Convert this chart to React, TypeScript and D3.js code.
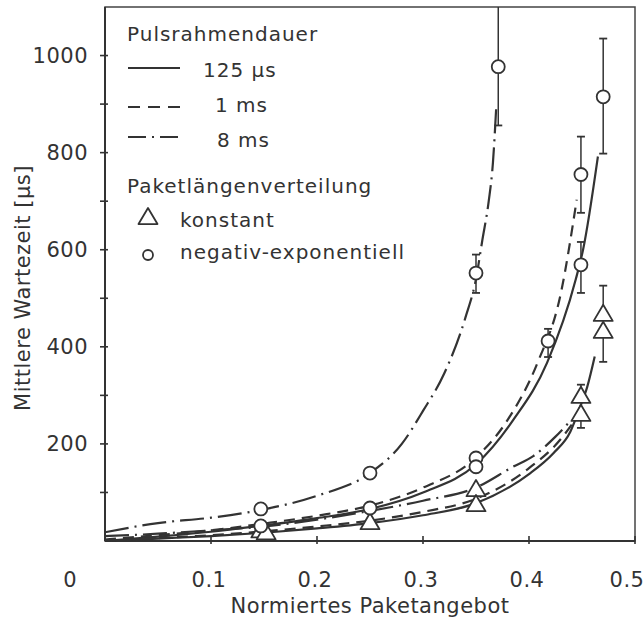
import React from "react";
import * as d3 from "d3";

// ---- data ----
const yMajorTicks = [200, 400, 600, 800, 1000];
const yMinorTicks = [100, 200, 300, 400, 500, 600, 700, 800, 900, 1000];
const xTicks = [0.1, 0.2, 0.3, 0.4, 0.5];
const xTickLabels = ["0.1", "0.2", "0.3", "0.4", "0.5"];

// curves: negativ-exponentiell
const exp125X = [0, 0.05, 0.1, 0.15, 0.2, 0.25, 0.3, 0.35, 0.385, 0.417, 0.444, 0.451, 0.465];
const exp125Y = [0, 9, 19, 32, 47, 66, 100, 158, 249, 367, 538, 600, 792];
const exp1msX = [0, 0.05, 0.1, 0.15, 0.2, 0.25, 0.3, 0.35, 0.38, 0.408, 0.43, 0.445];
const exp1msY = [3, 12, 22, 36, 52, 73, 110, 172, 250, 367, 510, 703];
const exp8msX = [0, 0.05, 0.1, 0.147, 0.2, 0.25, 0.28, 0.3, 0.32, 0.34, 0.35, 0.356, 0.362, 0.366, 0.369];
const exp8msY = [18, 37, 48, 64, 93, 140, 200, 268, 345, 460, 540, 620, 700, 780, 890];
// curves: konstant
const kon125X = [0, 0.05, 0.1, 0.15, 0.2, 0.25, 0.3, 0.35, 0.4, 0.423, 0.439, 0.448, 0.455, 0.462];
const kon125Y = [0, 5, 10, 17, 26, 37, 53, 78, 138, 181, 225, 275, 318, 380];
const kon1msX = [0, 0.05, 0.1, 0.15, 0.2, 0.25, 0.3, 0.35, 0.4, 0.43, 0.442];
const kon1msY = [1, 6, 12, 20, 30, 42, 60, 87, 150, 210, 245];
const kon8msX = [0, 0.05, 0.1, 0.15, 0.2, 0.25, 0.3, 0.35, 0.385, 0.404, 0.425, 0.44];
const kon8msY = [10, 15, 22, 30, 44, 62, 83, 110, 153, 175, 215, 250];

// measured points: circles (negativ-exponentiell)
const circX = [0.147, 0.147, 0.25, 0.25, 0.35, 0.35, 0.35, 0.371, 0.418, 0.449, 0.449, 0.47];
const circY = [66, 31, 140, 68, 171, 153, 552, 977, 412, 755, 569, 915];
const circLo = [null, null, null, null, null, null, 511, 856, 379, 676, 511, 798];
const circHi = [null, null, null, null, null, null, 590, 1100, 437, 833, 616, 1035];
// measured points: triangles (konstant)
const triX = [0.147, 0.152, 0.25, 0.35, 0.35, 0.449, 0.449, 0.47, 0.47];
const triY = [24, 20, 41, 109, 78, 301, 264, 470, 435];
const triLo = [null, null, null, null, null, null, 233, null, 369];
const triHi = [null, null, null, null, null, 322, null, 526, null];

const W = 643;
const H = 618;
const L = 105, R = 635, T = 7, B = 541;
const INK = "#333";
const FONT = "'DejaVu Sans', sans-serif";

const x = d3.scaleLinear().domain([0, 0.5]).range([L, R]);
const y = d3.scaleLinear().domain([0, 1100]).range([B, T]);

const lineGen = d3
  .line<[number, number]>()
  .x((d) => x(d[0]))
  .y((d) => y(d[1]))
  .curve(d3.curveMonotoneX);

const zip = (xs: number[], ys: number[]) => xs.map((v, i) => [v, ys[i]] as [number, number]);

const SOLID = "none";
const DASHED = "11,7";
const DASHDOT = "24,6,2,6";

const curves = [
  { xs: exp125X, ys: exp125Y, dash: SOLID },
  { xs: exp1msX, ys: exp1msY, dash: DASHED },
  { xs: exp8msX, ys: exp8msY, dash: DASHDOT },
  { xs: kon125X, ys: kon125Y, dash: SOLID },
  { xs: kon1msX, ys: kon1msY, dash: DASHED },
  { xs: kon8msX, ys: kon8msY, dash: DASHDOT },
];

function Triangle({ cx, cy, s = 19 }: { cx: number; cy: number; s?: number }) {
  const h = s * 0.85;
  const p = `M${cx},${cy - h / 2} L${cx + s / 2},${cy + h / 2} L${cx - s / 2},${cy + h / 2} Z`;
  return <path d={p} fill="white" stroke={INK} strokeWidth={1.8} strokeLinejoin="round" />;
}

export default function App() {
  const errs: any[] = [];
  const addErr = (xv: number, yv: number, lo: number | null, hi: number | null, key: string) => {
    const px = x(xv);
    if (hi != null) {
      errs.push(
        <g key={key + "h"}>
          <line x1={px} x2={px} y1={y(yv)} y2={y(hi)} stroke={INK} strokeWidth={1.5} />
          {hi < 1100 && <line x1={px - 4} x2={px + 4} y1={y(hi)} y2={y(hi)} stroke={INK} strokeWidth={1.8} />}
        </g>
      );
    }
    if (lo != null) {
      errs.push(
        <g key={key + "l"}>
          <line x1={px} x2={px} y1={y(yv)} y2={y(lo)} stroke={INK} strokeWidth={1.5} />
          <line x1={px - 4} x2={px + 4} y1={y(lo)} y2={y(lo)} stroke={INK} strokeWidth={1.8} />
        </g>
      );
    }
  };
  circX.forEach((xv, i) => addErr(xv, circY[i], circLo[i], circHi[i], "c" + i));
  triX.forEach((xv, i) => addErr(xv, triY[i], triLo[i], triHi[i], "t" + i));

  return (
    <svg
      width={W}
      height={H}
      style={{ position: "absolute", left: 0, top: 0, background: "white" }}
      fontFamily={FONT}
    >
      <rect x={0} y={0} width={W} height={H} fill="white" />
      {/* frame */}
      <rect x={L} y={T} width={R - L} height={B - T} fill="none" stroke="#444" strokeWidth={1.5} />
      <line x1={L} x2={L} y1={T} y2={B} stroke="#333" strokeWidth={2} />
      <line x1={L} x2={R} y1={B} y2={B} stroke="#333" strokeWidth={2} />

      {/* y ticks */}
      {yMinorTicks.map((v) => (
        <line key={"ym" + v} x1={L - 5} x2={L + 3} y1={y(v)} y2={y(v)} stroke={INK} strokeWidth={1.6} />
      ))}
      {yMajorTicks.map((v) => (
        <text key={"yl" + v} x={88} y={y(v)} dy="0.35em" textAnchor="end" fontSize={21} fill={INK} letterSpacing={0.5}>
          {v}
        </text>
      ))}
      <text x={70} y={580} dy="0.35em" textAnchor="middle" fontSize={21} fill={INK}>0</text>

      {/* x ticks */}
      {xTicks.map((v, i) => (
        <g key={"xt" + v}>
          <line x1={x(v)} x2={x(v)} y1={B - 5} y2={B + 3} stroke={INK} strokeWidth={1.6} />
          <text x={x(v) - (i === 4 ? 8 : 2)} y={580} dy="0.35em" textAnchor="middle" fontSize={21} fill={INK} letterSpacing={0.5}>
            {xTickLabels[i]}
          </text>
        </g>
      ))}

      {/* axis titles */}
      <text x={370} y={606} dy="0.35em" textAnchor="middle" fontSize={21} fill={INK} letterSpacing={0.5}>
        Normiertes Paketangebot
      </text>
      <text
        transform={`translate(23,288) rotate(-90)`}
        dy="0.35em"
        textAnchor="middle"
        fontSize={21}
        fill={INK}
        letterSpacing={0.5}
      >
        Mittlere Wartezeit [µs]
      </text>

      {/* curves */}
      {curves.map((c, i) => (
        <path
          key={"c" + i}
          d={lineGen(zip(c.xs, c.ys)) || ""}
          fill="none"
          stroke={INK}
          strokeWidth={2.2}
          strokeDasharray={c.dash}
        />
      ))}

      {/* error bars */}
      {errs}

      {/* markers */}
      {triX.map((xv, i) => (
        <Triangle key={"tr" + i} cx={x(xv)} cy={y(triY[i])} />
      ))}
      {circX.map((xv, i) => (
        <circle key={"ci" + i} cx={x(xv)} cy={y(circY[i])} r={6.5} fill="white" stroke={INK} strokeWidth={1.8} />
      ))}

      {/* legend */}
      <g fill={INK} fontSize={20} letterSpacing={1}>
        <text x={127} y={41}>Pulsrahmendauer</text>
        <line x1={128} x2={180} y1={68} y2={68} stroke={INK} strokeWidth={2} />
        <text x={203} y={77}>125 µs</text>
        <line x1={128} x2={180} y1={107} y2={107} stroke={INK} strokeWidth={2} strokeDasharray="12,8" />
        <text x={215} y={112}>1 ms</text>
        <line x1={128} x2={180} y1={137} y2={137} stroke={INK} strokeWidth={2} strokeDasharray="18,6,2,6" />
        <text x={217} y={147}>8 ms</text>
        <text x={127} y={193}>Paketlängenverteilung</text>
        <Triangle cx={148} cy={216} s={19} />
        <text x={180} y={227}>konstant</text>
        <circle cx={148} cy={255} r={5} fill="white" stroke={INK} strokeWidth={1.8} />
        <text x={180} y={259}>negativ-exponentiell</text>
      </g>
    </svg>
  );
}
